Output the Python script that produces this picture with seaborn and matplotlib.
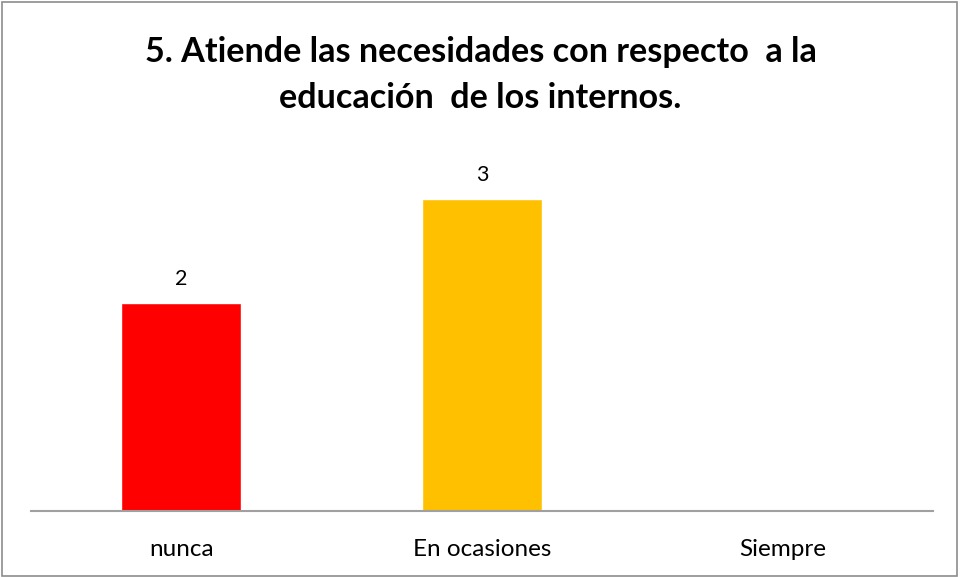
import matplotlib
matplotlib.use("Agg")
import matplotlib.pyplot as plt
import seaborn as sns
import pandas as pd
from matplotlib.patches import Rectangle

categories = ["nunca", "En ocasiones", "Siempre"]
values = [2, 3, 0]
colors = ["#FF0000", "#FFC000", "#4F81BD"]
title = "5. Atiende las necesidades con respecto  a la\neducación  de los internos."

sns.set_theme(style="white")
plt.rcParams['font.family'] = ['Lato', 'DejaVu Sans']

fig = plt.figure(figsize=(9.61, 5.77), dpi=100)
ax = fig.add_axes([31/961, 1-511/577, (933-31)/961, (511-95)/577])

df = pd.DataFrame({"cat": categories, "val": values})
sns.barplot(data=df, x="cat", y="val", hue="cat", palette=colors, width=0.4,
            legend=False, ax=ax, saturation=1)
ax.set_xlim(-0.5, 2.5)
ax.set_ylim(0, 4)
for i, v in enumerate(values):
    if v > 0:
        ax.text(i, v + 0.13, str(v), ha="center", va="bottom", fontsize=15.5, color="black")

for s in ["top", "right", "left"]:
    ax.spines[s].set_visible(False)
ax.spines["bottom"].set_color("#A0A0A0")
ax.spines["bottom"].set_linewidth(1.5)
ax.set_yticks([])
ax.set_xlabel("")
ax.set_ylabel("")
ax.tick_params(axis="x", length=0, pad=20, labelsize=17.5, colors="black")

fig.text(0.5, 1-75/577, title, ha="center", va="center", fontsize=24.6, fontweight="bold",
         linespacing=1.52, color="black")
fig.patches.append(Rectangle((0.002, 0.002), 0.994, 0.994, transform=fig.transFigure,
                             fill=False, edgecolor="#8C8C8C", linewidth=1.2))

fig.savefig("out.png", dpi=100, facecolor="white")
